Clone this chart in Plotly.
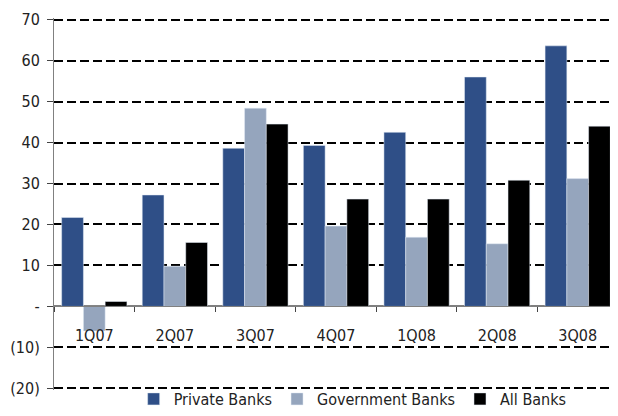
import plotly.graph_objects as go

quarters = ["1Q07", "2Q07", "3Q07", "4Q07", "1Q08", "2Q08", "3Q08"]
private_banks = [21.7, 27.2, 38.6, 39.3, 42.5, 56.0, 63.6]
government_banks = [-6.0, 9.8, 48.4, 19.6, 16.9, 15.3, 31.2]
all_banks = [1.2, 15.6, 44.5, 26.2, 26.2, 30.8, 44.0]
y_tickvals = [70, 60, 50, 40, 30, 20, 10, 0, -10, -20]
y_ticktext = ["70", "60", "50", "40", "30", "20", "10", "-", "(10)", "(20)"]

FONT = "DejaVu Sans Condensed, Liberation Sans Narrow, sans-serif"

fig = go.Figure()
fig.add_bar(x=quarters, y=private_banks, name="Private Banks", marker_color="#2F4F87")
fig.add_bar(x=quarters, y=government_banks, name="Government Banks", marker_color="#95A5BD")
fig.add_bar(x=quarters, y=all_banks, name="All Banks", marker_color="#000000")

LO, HI = -20.4, 70.4
fig.update_layout(
    width=610, height=408,
    margin=dict(l=46, r=0, t=10, b=26, autoexpand=False),
    paper_bgcolor="white", plot_bgcolor="white",
    barmode="group", bargap=0.19, bargroupgap=0,
    font=dict(family=FONT, size=16, color="#222222"),
    showlegend=True,
    legend=dict(orientation="h", xref="container", yref="container",
                x=0.565, xanchor="center", y=-0.062, yanchor="bottom",
                bgcolor="rgba(0,0,0,0)",
                font=dict(size=16), itemwidth=30, tracegroupgap=0),
)
fig.update_yaxes(
    range=[LO, HI], tickvals=y_tickvals, ticktext=y_ticktext,
    showgrid=True, gridcolor="black", gridwidth=1.5, griddash="9px,4px",
    zeroline=True, zerolinecolor="#808080", zerolinewidth=2,
    showline=True, linecolor="#808080", linewidth=1,
    ticks="outside", ticklen=6, tickcolor="#444444",
    ticklabelstandoff=4,
)
fig.update_xaxes(
    anchor="free", position=-LO / (HI - LO),
    showline=True, linecolor="#808080", linewidth=1,
    ticks="outside", tickson="boundaries", ticklen=5, tickcolor="#444444",
    showgrid=False, ticklabelstandoff=14,
)
fig.write_html("out.html")
